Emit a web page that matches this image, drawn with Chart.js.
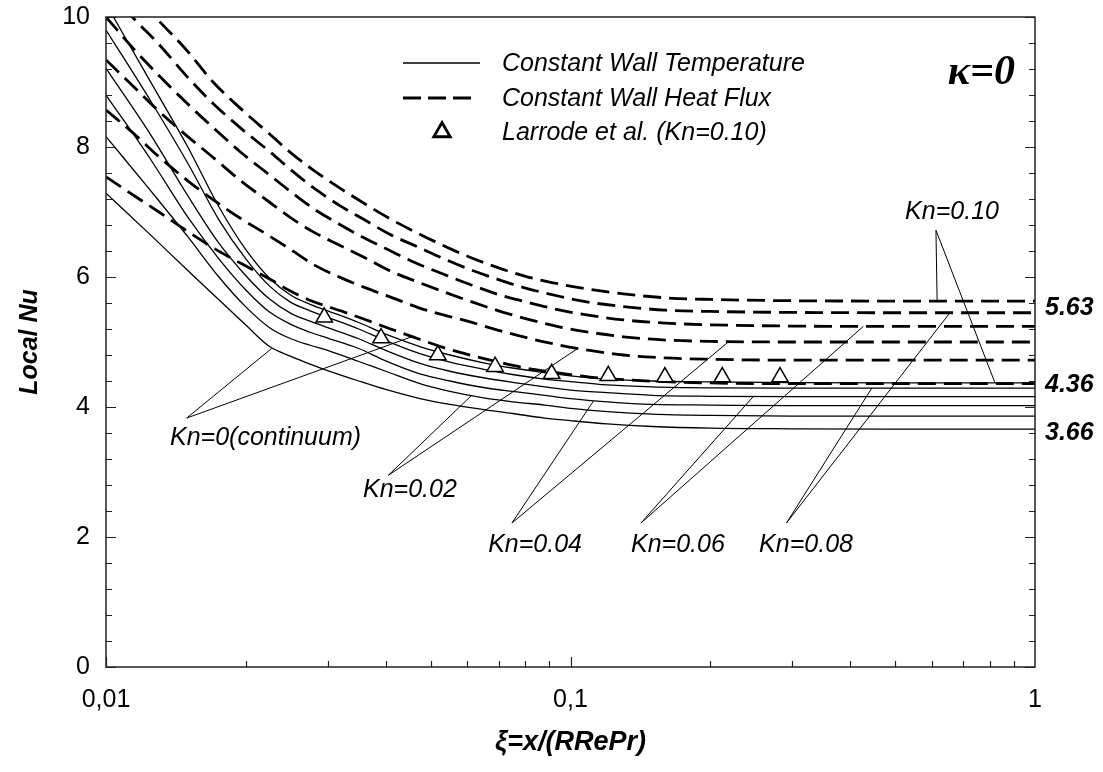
<!DOCTYPE html>
<html><head><meta charset="utf-8">
<script src="https://cdn.jsdelivr.net/npm/chart.js@4.4.1/dist/chart.umd.min.js"></script>
<style>html,body{margin:0;padding:0;background:#fff;}#wrap{width:1103px;height:772px;}</style>
</head><body><div id="wrap"><canvas id="c" width="1103" height="772"></canvas></div>
<script>
// ---- axis ticks ----
const xiTicks = [0.01, 0.1, 1];
const xiTickLabels = ['0,01', '0,1', '1'];
const nuMin = 0, nuMax = 10, nuStep = 2;

// ---- Constant wall temperature (solid) ----
const xiSolid = [0.01, 0.0125, 0.015, 0.0175, 0.02, 0.0225, 0.025, 0.0275, 0.03, 0.035, 0.04, 0.0474, 0.055, 0.065, 0.075, 0.088, 0.1, 0.12, 0.15, 0.2, 0.3, 0.5, 1];
const nuT_Kn000 = [7.29, 6.64, 6.10, 5.65, 5.26, 4.93, 4.78, 4.66, 4.56, 4.40, 4.27, 4.13, 4.04, 3.96, 3.90, 3.83, 3.79, 3.74, 3.70, 3.675, 3.665, 3.66, 3.66];
const nuT_Kn002 = [8.16, 7.32, 6.62, 6.00, 5.54, 5.22, 5.05, 4.95, 4.87, 4.70, 4.55, 4.36, 4.24, 4.14, 4.08, 4.03, 3.98, 3.93, 3.89, 3.87, 3.86, 3.86, 3.86];
const nuT_Kn004 = [8.80, 7.80, 6.92, 6.28, 5.80, 5.46, 5.27, 5.15, 5.06, 4.90, 4.71, 4.51, 4.40, 4.30, 4.24, 4.18, 4.13, 4.08, 4.04, 4.03, 4.02, 4.02, 4.02];
const nuT_Kn006 = [9.21, 8.18, 7.25, 6.52, 6.02, 5.66, 5.44, 5.32, 5.22, 5.05, 4.87, 4.67, 4.55, 4.45, 4.38, 4.31, 4.26, 4.22, 4.18, 4.165, 4.16, 4.16, 4.16];
const nuT_Kn008 = [9.80, 8.70, 7.75, 6.88, 6.28, 5.86, 5.61, 5.48, 5.38, 5.20, 5.02, 4.82, 4.69, 4.58, 4.50, 4.43, 4.39, 4.34, 4.31, 4.295, 4.29, 4.29, 4.29];
const nuT_Kn010 = [10.20, 8.99, 8.00, 7.08, 6.42, 5.98, 5.72, 5.58, 5.48, 5.30, 5.12, 4.93, 4.80, 4.68, 4.60, 4.53, 4.48, 4.43, 4.40, 4.385, 4.375, 4.37, 4.37];

// ---- Constant wall heat flux (dashed) ----
const xiFlux = [0.01, 0.0115, 0.013, 0.015, 0.017, 0.0195, 0.0225, 0.025, 0.028, 0.032, 0.036, 0.041, 0.047, 0.053, 0.06, 0.07, 0.08, 0.095, 0.11, 0.13, 0.16, 0.2, 0.3, 0.5, 1];
const nuH_Kn000 = [7.54, 7.25, 7.00, 6.70, 6.45, 6.21, 5.97, 5.78, 5.62, 5.48, 5.35, 5.20, 5.05, 4.92, 4.81, 4.69, 4.60, 4.52, 4.46, 4.42, 4.39, 4.37, 4.36, 4.36, 4.36];
const nuH_Kn002 = [8.57, 8.20, 7.85, 7.48, 7.19, 6.90, 6.63, 6.42, 6.19, 5.99, 5.84, 5.69, 5.53, 5.42, 5.32, 5.18, 5.07, 4.95, 4.87, 4.80, 4.755, 4.735, 4.72, 4.72, 4.72];
const nuH_Kn004 = [9.34, 8.92, 8.55, 8.16, 7.84, 7.48, 7.15, 6.91, 6.69, 6.48, 6.30, 6.09, 5.92, 5.78, 5.64, 5.48, 5.36, 5.23, 5.15, 5.08, 5.03, 5.01, 5.00, 5.00, 5.00];
const nuH_Kn006 = [10.0, 9.50, 9.10, 8.66, 8.30, 7.92, 7.57, 7.31, 7.05, 6.80, 6.60, 6.40, 6.20, 6.05, 5.90, 5.73, 5.62, 5.49, 5.41, 5.34, 5.29, 5.265, 5.245, 5.24, 5.24];
const nuH_Kn008 = [10.45, 9.97, 9.58, 9.07, 8.67, 8.29, 7.93, 7.65, 7.37, 7.09, 6.88, 6.65, 6.46, 6.29, 6.13, 5.96, 5.83, 5.70, 5.61, 5.545, 5.49, 5.47, 5.455, 5.45, 5.45];
const nuH_Kn010 = [10.8, 10.35, 9.94, 9.47, 9.00, 8.59, 8.20, 7.91, 7.64, 7.36, 7.13, 6.89, 6.67, 6.49, 6.32, 6.14, 6.01, 5.89, 5.81, 5.74, 5.68, 5.655, 5.635, 5.63, 5.63];

// ---- Larrode et al. (Kn=0.10) ----
const xiLarrode = [0.0295, 0.0391, 0.0518, 0.0688, 0.0911, 0.1206, 0.1597, 0.2122, 0.2825];
const nuLarrode = [5.38, 5.06, 4.80, 4.62, 4.51, 4.48, 4.46, 4.46, 4.46];

// ---- annotations (data coordinates) ----
const annLabels = ['Kn=0(continuum)', 'Kn=0.02', 'Kn=0.04', 'Kn=0.06', 'Kn=0.08', 'Kn=0.10'];
const annTextXi = [0.02205, 0.04512, 0.0839, 0.1703, 0.3214, 0.6628];
const annTextNu = [3.52, 2.72, 1.88, 1.88, 1.88, 7.0];
const annHubXi = [0.01492, 0.04054, 0.0748, 0.1418, 0.2917, 0.612];
const annHubNu = [3.83, 2.95, 2.215, 2.215, 2.215, 6.72];
const annSolidXi = [0.02273, 0.06127, 0.112, 0.2474, 0.4452, 0.8202];
const annSolidNu = [4.90, 4.18, 4.09, 4.16, 4.29, 4.37];
const annFluxXi = [0.04548, 0.1031, 0.2186, 0.4270, 0.6561, 0.6156];
const annFluxNu = [5.08, 4.89, 5.00, 5.24, 5.45, 5.63];
const limitLabels = ['5.63', '4.36', '3.66'];
const limitLabelNu = [5.52, 4.33, 3.60];

const legendTexts = ['Constant Wall Temperature', 'Constant Wall Heat Flux', 'Larrode et al. (Kn=0.10)'];

const SANS = '"Liberation Sans", Arial, sans-serif';
Chart.defaults.font.family = SANS;
Chart.defaults.color = '#000';

const pts = (xs, ys) => xs.map((v, i) => ({x: v, y: ys[i]}));
const solidSets = [nuT_Kn000, nuT_Kn002, nuT_Kn004, nuT_Kn006, nuT_Kn008, nuT_Kn010];
const fluxSets = [nuH_Kn000, nuH_Kn002, nuH_Kn004, nuH_Kn006, nuH_Kn008, nuH_Kn010];
const kn = ['0', '0.02', '0.04', '0.06', '0.08', '0.10'];

const datasets = [{
  label: 'Larrode et al. (Kn=0.10)',
  data: pts(xiLarrode, nuLarrode),
  showLine: false,
  pointStyle: 'triangle',
  pointRadius: 9.5,
  pointBorderWidth: 1.5,
  pointBackgroundColor: '#fff',
  pointBorderColor: '#000'
}];
solidSets.forEach((s, i) => datasets.push({
  label: 'T Kn=' + kn[i], data: pts(xiSolid, s), showLine: true,
  borderColor: '#000', borderWidth: 1.3, pointRadius: 0, cubicInterpolationMode: 'monotone'
}));
fluxSets.forEach((s, i) => datasets.push({
  label: 'H Kn=' + kn[i], data: pts(xiFlux, s), showLine: true,
  borderColor: '#000', borderWidth: 2.8, borderDash: [18, 8], pointRadius: 0, cubicInterpolationMode: 'monotone'
}));

const decor = {
  id: 'decor',
  afterDatasetsDraw(chart) {
    const {ctx, chartArea: a, scales: {x, y}} = chart;
    ctx.save();
    // annotation leader lines
    ctx.strokeStyle = '#000'; ctx.lineWidth = 1; ctx.setLineDash([]);
    for (let i = 0; i < annLabels.length; i++) {
      const hx = x.getPixelForValue(annHubXi[i]), hy = y.getPixelForValue(annHubNu[i]);
      ctx.beginPath();
      ctx.moveTo(x.getPixelForValue(annSolidXi[i]), y.getPixelForValue(annSolidNu[i]));
      ctx.lineTo(hx, hy);
      ctx.lineTo(x.getPixelForValue(annFluxXi[i]), y.getPixelForValue(annFluxNu[i]));
      ctx.stroke();
    }
    ctx.fillStyle = '#000';
    ctx.font = 'italic 25px ' + SANS;
    ctx.textAlign = 'center'; ctx.textBaseline = 'middle';
    for (let i = 0; i < annLabels.length; i++) {
      ctx.fillText(annLabels[i], x.getPixelForValue(annTextXi[i]), y.getPixelForValue(annTextNu[i]));
    }
    // limit values on the right
    ctx.font = 'italic bold 25px ' + SANS;
    ctx.textAlign = 'left';
    for (let i = 0; i < limitLabels.length; i++) {
      ctx.fillText(limitLabels[i], a.right + 10, y.getPixelForValue(limitLabelNu[i]));
    }
    // legend
    const lx = a.left + 297, tx = a.left + 396;
    const ly = [a.top + 46, a.top + 81, a.top + 115];
    ctx.lineWidth = 1.3;
    ctx.beginPath(); ctx.moveTo(lx, ly[0]); ctx.lineTo(lx + 77, ly[0]); ctx.stroke();
    ctx.lineWidth = 2.8; ctx.setLineDash([18, 7]);
    ctx.beginPath(); ctx.moveTo(lx, ly[1]); ctx.lineTo(lx + 69, ly[1]); ctx.stroke();
    ctx.setLineDash([]);
    ctx.fillStyle = '#fff'; ctx.strokeStyle = '#000';
    Chart.helpers.drawPoint(ctx, {pointStyle: 'triangle', radius: 9.5, borderWidth: 1.5, rotation: 0}, lx + 39, ly[2]);
    ctx.fillStyle = '#000';
    ctx.font = 'italic 25px ' + SANS;
    ctx.textAlign = 'left'; ctx.textBaseline = 'middle';
    legendTexts.forEach((t, i) => ctx.fillText(t, tx, ly[i] + 1));
    // kappa label
    ctx.font = 'italic bold 42px "Liberation Serif", "Times New Roman", serif';
    ctx.textAlign = 'right';
    ctx.fillText('\u03BA=0', a.right - 20, a.top + 56);
    // frame
    ctx.strokeStyle = '#222'; ctx.lineWidth = 1.5;
    ctx.strokeRect(a.left, a.top, a.right - a.left, a.bottom - a.top);
    // inward ticks
    ctx.lineWidth = 1.2;
    ctx.beginPath();
    for (let k = 0; k <= 25; k++) {
      const v = k * 0.4, py = Math.round(y.getPixelForValue(v)) + 0.5;
      const len = (k % 5 === 0) ? 10 : 6;
      ctx.moveTo(a.left, py); ctx.lineTo(a.left + len, py);
      ctx.moveTo(a.right, py); ctx.lineTo(a.right - len, py);
    }
    [0.01, 0.1].forEach(d => {
      for (let m = 1; m <= 9; m++) {
        const px = Math.round(x.getPixelForValue(m * d)) + 0.5;
        const len = (m === 1) ? 10 : 6;
        ctx.moveTo(px, a.bottom); ctx.lineTo(px, a.bottom - len);
      }
    });
    ctx.stroke();
    ctx.restore();
  }
};

new Chart(document.getElementById('c'), {
  type: 'scatter',
  data: {datasets},
  options: {
    responsive: false,
    animation: false,
    devicePixelRatio: 1,
    layout: {padding: {top: 17, right: 68, bottom: 0, left: 0}},
    plugins: {legend: {display: false}, tooltip: {enabled: false}},
    scales: {
      x: {
        type: 'logarithmic', min: 0.01, max: 1,
        grid: {display: false}, border: {display: false},
        afterBuildTicks: s => { s.ticks = xiTicks.map(v => ({value: v})); },
        afterFit: s => { s.height = 105; s.paddingLeft = 0; s.paddingRight = 0; },
        ticks: {autoSkip: false, maxRotation: 0, padding: 10, font: {size: 25}, color: '#000',
                callback: (v, i) => xiTickLabels[i]},
        title: {display: true, text: '\u03BE=x/(RRePr)', color: '#000',
                font: {size: 27, weight: 'bold', style: 'italic'}, padding: {top: 0, bottom: 13}}
      },
      y: {
        min: nuMin, max: nuMax,
        grid: {display: false}, border: {display: false},
        afterFit: s => { s.width = 106; s.paddingTop = 0; s.paddingBottom = 0; },
        ticks: {stepSize: nuStep, padding: 8, font: {size: 25}, color: '#000'},
        title: {display: true, text: 'Local Nu', color: '#000',
                font: {size: 25, weight: 'bold', style: 'italic'}, padding: {top: 15, bottom: 0}}
      }
    }
  },
  plugins: [decor]
});
</script></body></html>
